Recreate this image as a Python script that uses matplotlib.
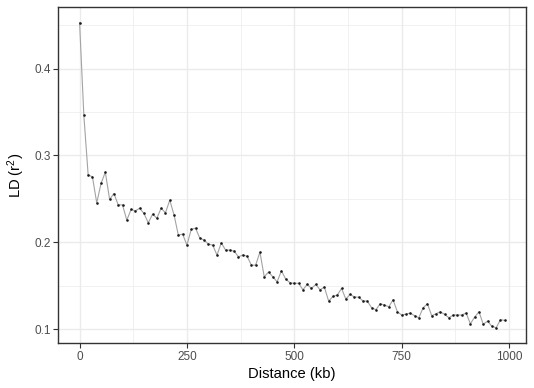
import matplotlib
matplotlib.use("Agg")
import matplotlib.pyplot as plt
import numpy as np

distance_kb = list(range(0, 1000, 10))
ld_r2 = [
    0.453, 0.346, 0.2776, 0.2753, 0.2453, 0.2677, 0.2807, 0.2493, 0.2561, 0.2430,
    0.2430, 0.2254, 0.2377, 0.2361, 0.2392, 0.2331, 0.2223, 0.2323, 0.2277, 0.2392,
    0.2338, 0.2484, 0.2315, 0.2082, 0.2093, 0.1967, 0.2147, 0.2162, 0.2047, 0.2024,
    0.1978, 0.1967, 0.1852, 0.1993, 0.1909, 0.1909, 0.1898, 0.1832, 0.1852, 0.1840,
    0.1736, 0.1736, 0.1886, 0.1602, 0.1656, 0.1602, 0.1544, 0.1671, 0.1575, 0.1533,
    0.1526, 0.1527, 0.1452, 0.1514, 0.1468, 0.1514, 0.1452, 0.1483, 0.1322, 0.1376,
    0.1391, 0.1468, 0.1345, 0.1399, 0.1368, 0.1368, 0.1322, 0.1322, 0.1245, 0.1222,
    0.1291, 0.1276, 0.1257, 0.1337, 0.1199, 0.1161, 0.1172, 0.1184, 0.1153, 0.1130,
    0.1245, 0.1291, 0.1153, 0.1176, 0.1199, 0.1169, 0.1130, 0.1161, 0.1161, 0.1161,
    0.1184, 0.1061, 0.1138, 0.1199, 0.1054, 0.1092, 0.1031, 0.1015, 0.1107, 0.1100,
]
x_ticks = [0, 250, 500, 750, 1000]
y_ticks = [0.1, 0.2, 0.3, 0.4]

plt.rcParams['font.family'] = ['Liberation Sans', 'DejaVu Sans']

fig = plt.figure(figsize=(5.34, 3.88), dpi=100)
ax = fig.add_axes([58.3/534, 1-343/388, (526-58.3)/534, (343-7.3)/388])

x = np.array(distance_kb, dtype=float)
y = np.array(ld_r2)
xr = x.max() - x.min(); yr = y.max() - y.min()
ax.set_xlim(x.min() - 0.05*xr, x.max() + 0.05*xr)
ax.set_ylim(y.min() - 0.05*yr, y.max() + 0.05*yr)

ax.plot(x, y, color='#A3A3A3', lw=0.8, zorder=2)
ax.scatter(x, y, s=3.5, color='#1a1a1a', zorder=3, linewidths=0)

ax.set_xticks(x_ticks)
ax.set_yticks(y_ticks)
ax.set_xticks([125, 375, 625, 875], minor=True)
ax.set_yticks([0.15, 0.25, 0.35, 0.45], minor=True)
ax.set_xticklabels([str(t) for t in x_ticks])
ax.set_yticklabels([f"{t:.1f}" for t in y_ticks])

ax.grid(True, which='major', color='#EBEBEB', lw=1.0, zorder=0)
ax.grid(True, which='minor', color='#EBEBEB', lw=0.5, zorder=0)
ax.set_axisbelow(True)

for s in ax.spines.values():
    s.set_color('#333333')
    s.set_linewidth(1.0)

ax.tick_params(which='major', length=3.5, width=0.8, color='#333333',
               labelcolor='#4D4D4D', labelsize=8.5, pad=2)
ax.tick_params(which='minor', length=0)

ax.set_xlabel('Distance (kb)', fontsize=10.6, color='black', labelpad=3)
ax.set_ylabel(r'LD ($\mathregular{r^2}$)', fontsize=10.6, color='black', labelpad=5)

fig.savefig('out.png', dpi=100)
